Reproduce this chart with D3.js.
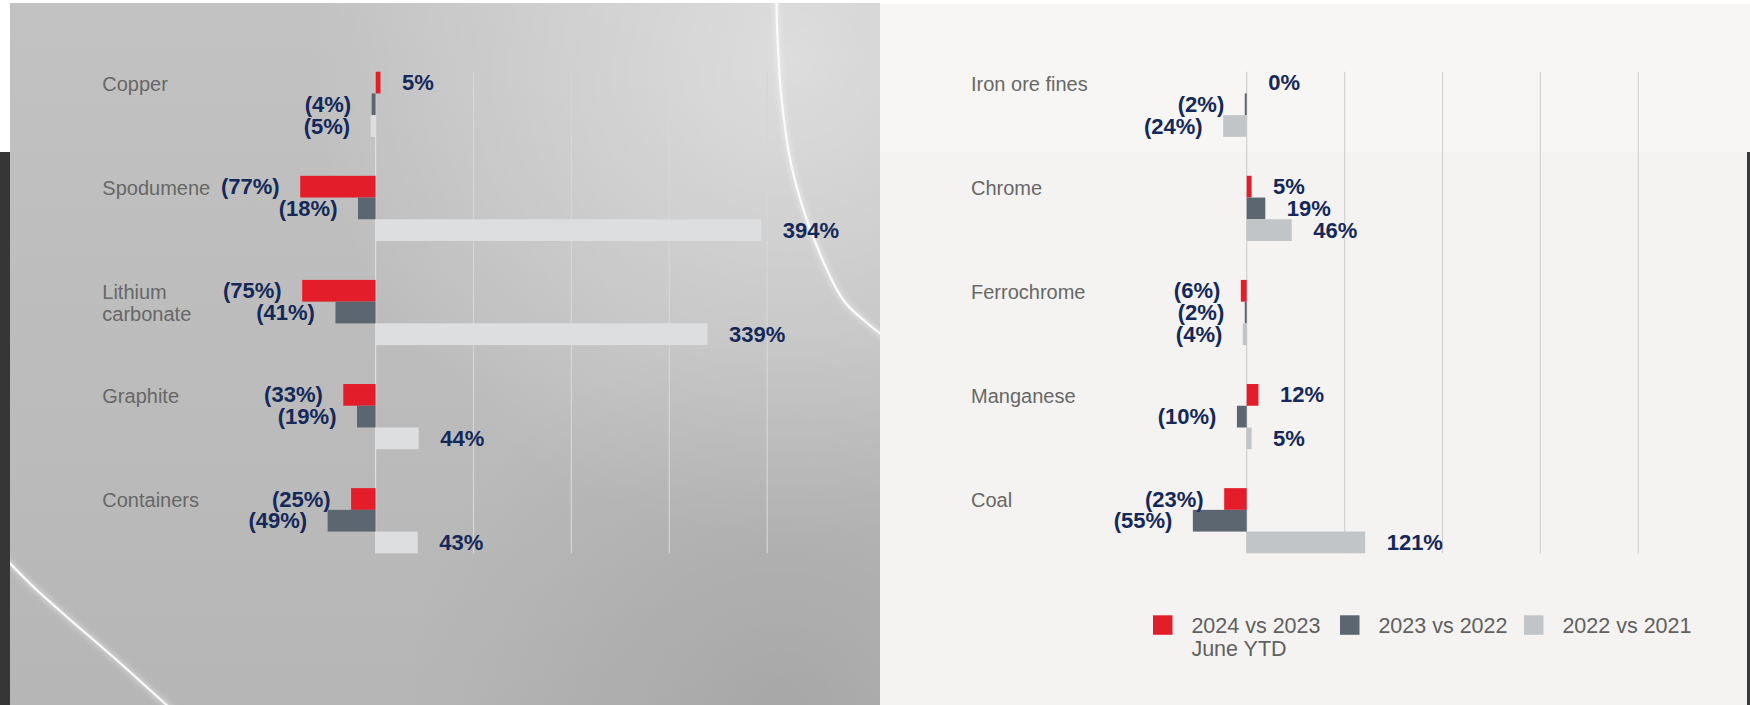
<!DOCTYPE html>
<html><head><meta charset="utf-8">
<script src="https://cdn.jsdelivr.net/npm/d3@7"></script>
<style>html,body{margin:0;padding:0;background:#fff;} svg{display:block}</style>
</head><body>
<svg id="chart" width="1750" height="705"></svg>
<script>
// ---- data ----
const leftCategories = ["Copper", "Spodumene", "Lithium carbonate", "Graphite", "Containers"];
const left2024 = [5, -77, -75, -33, -25];
const left2023 = [-4, -18, -41, -19, -49];
const left2022 = [-5, 394, 339, 44, 43];

const rightCategories = ["Iron ore fines", "Chrome", "Ferrochrome", "Manganese", "Coal"];
const right2024 = [0, 5, -6, 12, -23];
const right2023 = [-2, 19, -2, -10, -55];
const right2022 = [-24, 46, -4, 5, 121];

const seriesKeys = ["s2024", "s2023", "s2022"];
const seriesNames = [["2024 vs 2023", "June YTD"], ["2023 vs 2022"], ["2022 vs 2021"]];
const gridTicks = [0, 100, 200, 300, 400];

// ---- styles ----
const RED = "#e31e2a", DARK = "#5b6670", LIGHT_R = "#c1c5c8", LIGHT_L = "#dddee0";
const NAVY = "#14285a";
const FONT = "'Liberation Sans', Arial, Helvetica, sans-serif";

const svg = d3.select("#chart");
const defs = svg.append("defs");

// ---- backgrounds ----
const lg = defs.append("linearGradient").attr("id", "lbase").attr("x1", 0).attr("y1", 0).attr("x2", 0).attr("y2", 1);
lg.append("stop").attr("offset", 0).attr("stop-color", "#c2c2c2");
lg.append("stop").attr("offset", 1).attr("stop-color", "#b6b6b6");
const rg1 = defs.append("radialGradient").attr("id", "lhi").attr("gradientUnits", "userSpaceOnUse")
  .attr("cx", 790).attr("cy", 60).attr("r", 480);
rg1.append("stop").attr("offset", 0).attr("stop-color", "#fff").attr("stop-opacity", 0.45);
rg1.append("stop").attr("offset", 1).attr("stop-color", "#fff").attr("stop-opacity", 0);
const rg2 = defs.append("radialGradient").attr("id", "ldk").attr("gradientUnits", "userSpaceOnUse")
  .attr("cx", 780).attr("cy", 705).attr("r", 380);
rg2.append("stop").attr("offset", 0).attr("stop-color", "#000").attr("stop-opacity", 0.08);
rg2.append("stop").attr("offset", 1).attr("stop-color", "#000").attr("stop-opacity", 0);
const glow = defs.append("filter").attr("id", "glow").attr("x", -0.2).attr("y", -0.2).attr("width", 1.4).attr("height", 1.4);
glow.append("feGaussianBlur").attr("stdDeviation", 2.5);

// dark strip at far left
svg.append("rect").attr("x", 0).attr("y", 152).attr("width", 11).attr("height", 553).attr("fill", "#363636");
// left panel
svg.append("rect").attr("x", 10).attr("y", 3).attr("width", 870).attr("height", 702).attr("fill", "url(#lbase)");
svg.append("rect").attr("x", 10).attr("y", 3).attr("width", 870).attr("height", 702).attr("fill", "url(#lhi)");
svg.append("rect").attr("x", 10).attr("y", 3).attr("width", 870).attr("height", 702).attr("fill", "url(#ldk)");
// right panel
svg.append("rect").attr("x", 880).attr("y", 4).attr("width", 870).attr("height", 148).attr("fill", "#f7f6f5");
svg.append("rect").attr("x", 880).attr("y", 152).attr("width", 870).attr("height", 553).attr("fill", "#f5f3f2");
svg.append("rect").attr("x", 1747).attr("y", 152).attr("width", 3).attr("height", 553).attr("fill", "#3a3a3a");

// decorative arcs on left panel
const arcLine = d3.line().curve(d3.curveCatmullRom);
const clip = defs.append("clipPath").attr("id", "lclip");
clip.append("rect").attr("x", 10).attr("y", 3).attr("width", 870).attr("height", 702);
const deco = svg.append("g").attr("clip-path", "url(#lclip)");
const arc1 = [[776.5, 0], [777.3, 33], [781.7, 100], [791.7, 167], [811.7, 233], [843.3, 300], [866, 322], [895, 345]];
const arc2 = [[0, 552], [10, 563.3], [33.3, 586.7], [66.7, 616.7], [116.7, 660], [166.7, 705], [180, 716]];
[arc1, arc2].forEach(pts => {
  deco.append("path").attr("d", arcLine(pts)).attr("fill", "none").attr("stroke", "#fff")
    .attr("stroke-width", 6).attr("opacity", 0.35).attr("filter", "url(#glow)");
  deco.append("path").attr("d", arcLine(pts)).attr("fill", "none").attr("stroke", "#fbfbfb").attr("stroke-width", 2.2);
});

// ---- chart drawing ----
const labelLines = { "Lithium carbonate": ["Lithium", "carbonate"] };
const fmt = v => v < 0 ? "(" + Math.abs(v) + "%)" : v + "%";

function drawPanel(opts) {
  const { categories, values, x0, labelX, lightColor, gridColor, zeroColor } = opts;
  const x = d3.scaleLinear().domain([0, 400]).range([x0, x0 + 391.6]);
  const y = d3.scaleBand().domain(d3.range(categories.length)).range([71.7, 553.3]).paddingInner(0.374);
  const ys = d3.scaleBand().domain(seriesKeys).range([0, y.bandwidth()]);
  const colors = { s2024: RED, s2023: DARK, s2022: lightColor };
  const g = svg.append("g");

  // gridlines
  g.selectAll("line.grid").data(gridTicks).join("line")
    .attr("x1", d => x(d)).attr("x2", d => x(d))
    .attr("y1", y.range()[0]).attr("y2", y.range()[1])
    .attr("stroke", d => d === 0 ? zeroColor : gridColor).attr("stroke-width", 1.2);

  const rows = categories.map((c, i) => ({
    i, c, vals: seriesKeys.map((k, j) => ({ k, v: values[j][i] }))
  }));
  const row = g.selectAll("g.row").data(rows).join("g").attr("transform", d => `translate(0,${y(d.i)})`);

  // category labels
  row.append("text")
    .attr("x", labelX).attr("y", ys("s2024") + ys.bandwidth() / 2 + 8)
    .attr("font-family", FONT).attr("font-size", 20).attr("fill", "#676767")
    .selectAll("tspan").data(d => labelLines[d.c] || [d.c]).join("tspan")
    .attr("x", labelX).attr("dy", (d, i) => i === 0 ? 0 : 22.7).text(d => d);

  // bars
  row.selectAll("rect").data(d => d.vals).join("rect")
    .attr("x", d => x(Math.min(0, d.v)))
    .attr("width", d => Math.abs(x(d.v) - x(0)))
    .attr("y", d => ys(d.k)).attr("height", ys.bandwidth())
    .attr("fill", d => colors[d.k]);

  // value labels
  row.selectAll("text.val").data(d => d.vals).join("text").attr("class", "val")
    .attr("x", d => d.v < 0 ? x(d.v) - 20.5 : x(d.v) + 21.5)
    .attr("y", d => ys(d.k) + ys.bandwidth() / 2 + 7.6)
    .attr("text-anchor", d => d.v < 0 ? "end" : "start")
    .attr("font-family", FONT).attr("font-size", 22).attr("font-weight", "bold").attr("fill", NAVY)
    .text(d => fmt(d.v));
}

drawPanel({
  categories: leftCategories, values: [left2024, left2023, left2022],
  x0: 375.6, labelX: 102.3, lightColor: LIGHT_L, gridColor: "#d6d6d6", zeroColor: "#dedede"
});
drawPanel({
  categories: rightCategories, values: [right2024, right2023, right2022],
  x0: 1246.7, labelX: 971, lightColor: LIGHT_R, gridColor: "#d3d3d3", zeroColor: "#cfcfcf"
});

// ---- legend ----
const legendX = [1153, 1340, 1524];
const legColors = [RED, DARK, LIGHT_R];
const leg = svg.append("g").selectAll("g").data(seriesNames).join("g")
  .attr("transform", (d, i) => `translate(${legendX[i]},615.3)`);
leg.append("rect").attr("width", 19.5).attr("height", 19.5).attr("fill", (d, i) => legColors[i]);
leg.append("text").attr("x", 38.4).attr("y", 17.7)
  .attr("font-family", FONT).attr("font-size", 21.5).attr("fill", "#606060")
  .selectAll("tspan").data(d => d).join("tspan")
  .attr("x", 38.4).attr("dy", (d, i) => i === 0 ? 0 : 23.3).text(d => d);
</script>
</body></html>
